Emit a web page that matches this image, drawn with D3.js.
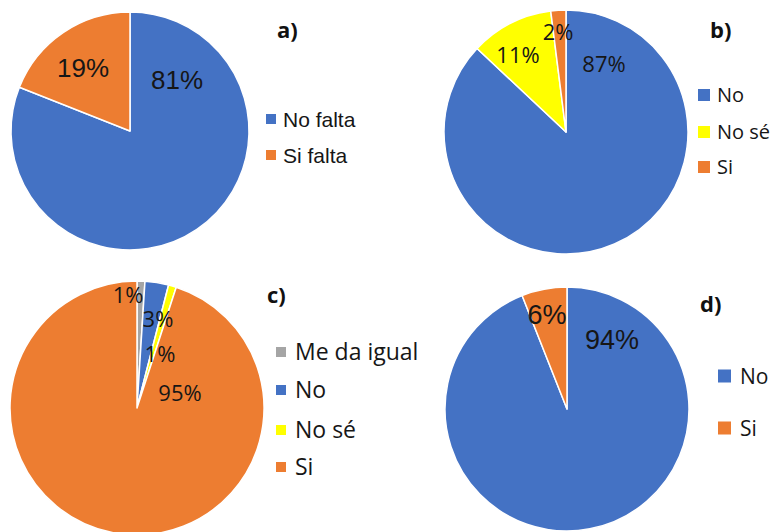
<!DOCTYPE html>
<html>
<head>
<meta charset="utf-8">
<script src="https://cdn.jsdelivr.net/npm/d3@7"></script>
<style>
  html, body { margin: 0; padding: 0; background: #fff; }
  svg { display: block; }
</style>
</head>
<body>
<svg id="chart" width="771" height="532"></svg>
<script>
// Survey answers, one pie per question (percent of respondents)
const panelA_categories = ["No falta", "Si falta"];
const panelA_values = [81, 19];

const panelB_categories = ["No", "No sé", "Si"];
const panelB_values = [87, 11, 2];

const panelC_categories = ["Me da igual", "No", "No sé", "Si"];
const panelC_values = [1, 3, 1, 95];

const panelD_categories = ["No", "Si"];
const panelD_values = [94, 6];

const panelTitles = ["a)", "b)", "c)", "d)"];

const colorOf = {
  "No falta": "#4472C4", "Si falta": "#ED7D31",
  "No": "#4472C4", "No sé": "#FFFF00", "Si": "#ED7D31", "Me da igual": "#A5A5A5"
};

const ARIAL = "'Liberation Sans', Arial, sans-serif";
const HUMAN = "'Open Sans', 'Noto Sans', sans-serif";

// Placement of each pie, its percentage labels (offsets from the pie centre),
// its panel letter and its legend.
const panels = [
  { cats: panelA_categories, vals: panelA_values, title: panelTitles[0],
    cx: 130, cy: 131, r: 119,
    labelFont: ARIAL, labelSize: 26,
    labelOffsets: [[47, -42], [-47, -54]],
    titleX: 277, titleY: 38,
    legendX: 266, legendY: [119, 155], sw: 10, legendFont: ARIAL, legendSize: 21, textX: 283 },
  { cats: panelB_categories, vals: panelB_values, title: panelTitles[1],
    cx: 566, cy: 132, r: 122,
    labelFont: HUMAN, labelSize: 22,
    labelOffsets: [[38, -60], [-48, -69], [-8, -92]],
    titleX: 710, titleY: 38,
    legendX: 698, legendY: [95, 132, 167], sw: 12, legendFont: HUMAN, legendSize: 20, textX: 717 },
  { cats: panelC_categories, vals: panelC_values, title: panelTitles[2],
    cx: 137, cy: 408, r: 127,
    labelFont: HUMAN, labelSize: 22,
    labelOffsets: [[-9, -105], [21, -81], [23, -46], [43, -7]],
    titleX: 267, titleY: 303,
    legendX: 276, legendY: [352, 390, 430, 467], sw: 10, legendFont: HUMAN, legendSize: 23, textX: 295 },
  { cats: panelD_categories, vals: panelD_values, title: panelTitles[3],
    cx: 567, cy: 409, r: 122,
    labelFont: ARIAL, labelSize: 27,
    labelOffsets: [[45, -60], [-20, -85]],
    titleX: 700, titleY: 312,
    legendX: 718, legendY: [376, 428], sw: 13, legendFont: HUMAN, legendSize: 21, textX: 740 }
];

const svg = d3.select("#chart");
const pie = d3.pie().sort(null).value(d => d.value);

panels.forEach(p => {
  const data = p.cats.map((c, i) => ({ cat: c, value: p.vals[i] }));
  const arcs = pie(data);
  const arc = d3.arc().innerRadius(0).outerRadius(p.r);

  const g = svg.append("g").attr("transform", `translate(${p.cx},${p.cy})`);

  g.selectAll("path.slice")
    .data(arcs)
    .join("path")
    .attr("class", "slice")
    .attr("d", arc)
    .attr("fill", d => colorOf[d.data.cat])
    .attr("stroke", "#fff")
    .attr("stroke-width", 1.5)
    .attr("stroke-linejoin", "round");

  g.selectAll("text.pct")
    .data(arcs)
    .join("text")
    .attr("class", "pct")
    .attr("x", (d, i) => p.labelOffsets[i][0])
    .attr("y", (d, i) => p.labelOffsets[i][1])
    .attr("text-anchor", "middle")
    .attr("font-family", p.labelFont)
    .attr("font-size", p.labelSize)
    .attr("fill", "#161616")
    .text(d => d.data.value + "%");

  svg.append("text")
    .attr("x", p.titleX)
    .attr("y", p.titleY)
    .attr("font-family", HUMAN)
    .attr("font-weight", "bold")
    .attr("font-size", 22)
    .attr("fill", "#111")
    .text(p.title);

  const leg = svg.append("g");
  const items = leg.selectAll("g")
    .data(p.cats)
    .join("g")
    .attr("transform", (d, i) => `translate(0,${p.legendY[i]})`);
  items.append("rect")
    .attr("x", p.legendX)
    .attr("y", -p.sw / 2)
    .attr("width", p.sw)
    .attr("height", p.sw)
    .attr("fill", d => colorOf[d]);
  items.append("text")
    .attr("x", p.textX)
    .attr("y", 0)
    .attr("dy", "0.36em")
    .attr("font-family", p.legendFont)
    .attr("font-size", p.legendSize)
    .attr("fill", "#161616")
    .text(d => d);
});
</script>
</body>
</html>
